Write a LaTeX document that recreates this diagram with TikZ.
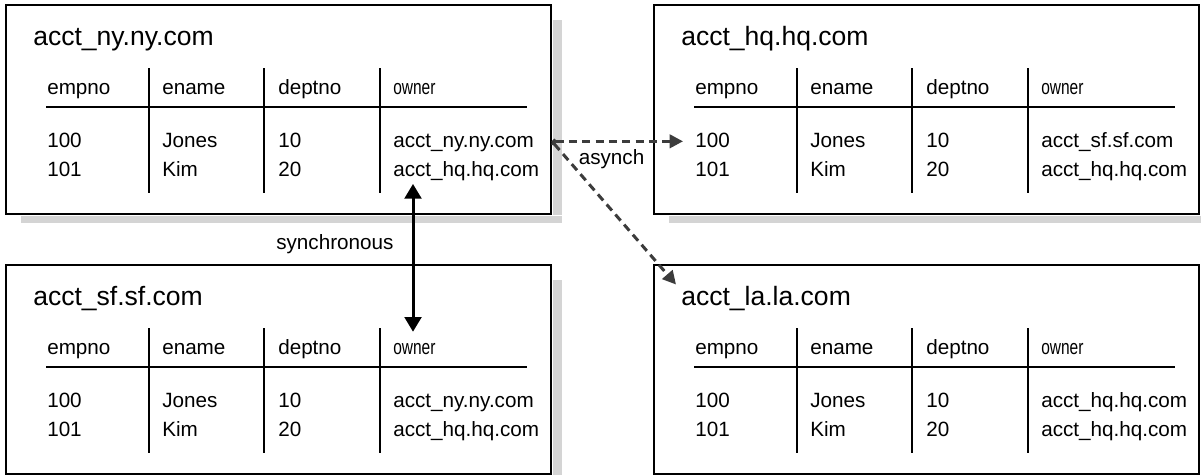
\documentclass[tikz,border=0pt]{standalone}
\usepackage{fontspec}
\setmainfont{Liberation Sans}
\usepackage{graphicx}
\usetikzlibrary{arrows.meta,calc}

\definecolor{boxshadow}{HTML}{D4D4D4}
\definecolor{asyncgray}{HTML}{3C3C3C}

\newcommand{\ownerhead}{\scalebox{0.75}[1]{owner}}

\begin{document}
\begin{tikzpicture}[x=0.75pt, y=-0.75pt,
    tablebox/.style={draw, line width=1.5pt, fill=white, minimum width=408.75pt, minimum height=156.75pt, inner sep=0pt},
    sitename/.style={anchor=base west, inner sep=0pt, font=\fontsize{19.9}{24}\selectfont},
    cell/.style={anchor=base west, inner sep=0pt, text height=12pt, text depth=3.5pt, font=\fontsize{15.5}{18}\selectfont},
    linklabel/.style={inner sep=0pt, black, font=\fontsize{15.5}{18}\selectfont},
    syncarrow/.style={line width=2.25pt, {Triangle[length=11pt,width=12.5pt]}-{Triangle[length=11pt,width=12.5pt]}},
    asyncarrow/.style={asyncgray, line width=2.25pt, dash pattern=on 6pt off 4pt, {Circle[length=3.5pt]}-{Triangle[length=10pt,width=10pt]}}]
    \useasboundingbox (0,0) rectangle (1201,475);

    % Draw the four tables
    \foreach \nm/\bx/\by/\oa/\ob in {ny/5/4/ny/hq, hq/653/4/sf/hq, sf/5/264/ny/hq, la/653/264/hq/hq} {
        % frame and shadow
        \node[tablebox, anchor=north west] (\nm) at (\bx,\by) {};
        \path[fill=boxshadow] ($(\nm.south west)+(16,0.75)$) rectangle ($(\nm.south east)+(10,8)$);
        \path[fill=boxshadow] ($(\nm.north east)+(0.75,16)$) rectangle ($(\nm.south east)+(10,0)$);
        \node[sitename] (\nm-title) at (\bx+28,\by+41) {acct\_\nm.\nm.com};
        % columns
        \foreach \c/\cx/\hd/\ra/\rb in {1/42/empno/100/101, 2/157/ename/Jones/Kim, 3/273/deptno/10/20, 4/388/\ownerhead/acct\_\oa.\oa.com/acct\_\ob.\ob.com} {
            \node[cell] (\nm-h\c) at (\bx+\cx,\by+90) {\hd};
            \node[cell] (\nm-a\c) at (\bx+\cx,\by+143) {\ra};
            \node[cell] (\nm-b\c) at (\bx+\cx,\by+172) {\rb};
        }
        % rules
        \draw[line width=1.1pt] (\bx+41,\by+103) -- (\bx+522,\by+103);
        \foreach \dx in {144,259,375}
            \draw[line width=1.5pt] (\bx+\dx,\by+64) -- (\bx+\dx,\by+189);
    }

    % synchronous link
    \draw[syncarrow] ($(ny-b4.south west)+(20,3)$) -- ($(sf-h4.north west)+(20,-6)$)
        node[linklabel, pos=0.41, left=13.5pt] {synchronous};

    % asynchronous links
    \draw[asyncarrow] (ny.east |- ny-a4) -- ($(hq-a1.west)+(-12,0)$)
        node[linklabel, midway, below=5pt, xshift=-4.5pt] {asynch};
    \draw[asyncarrow] (ny.east |- ny-a4) -- ($(la-title.north west)+(-5,-1)$);
\end{tikzpicture}
\end{document}
